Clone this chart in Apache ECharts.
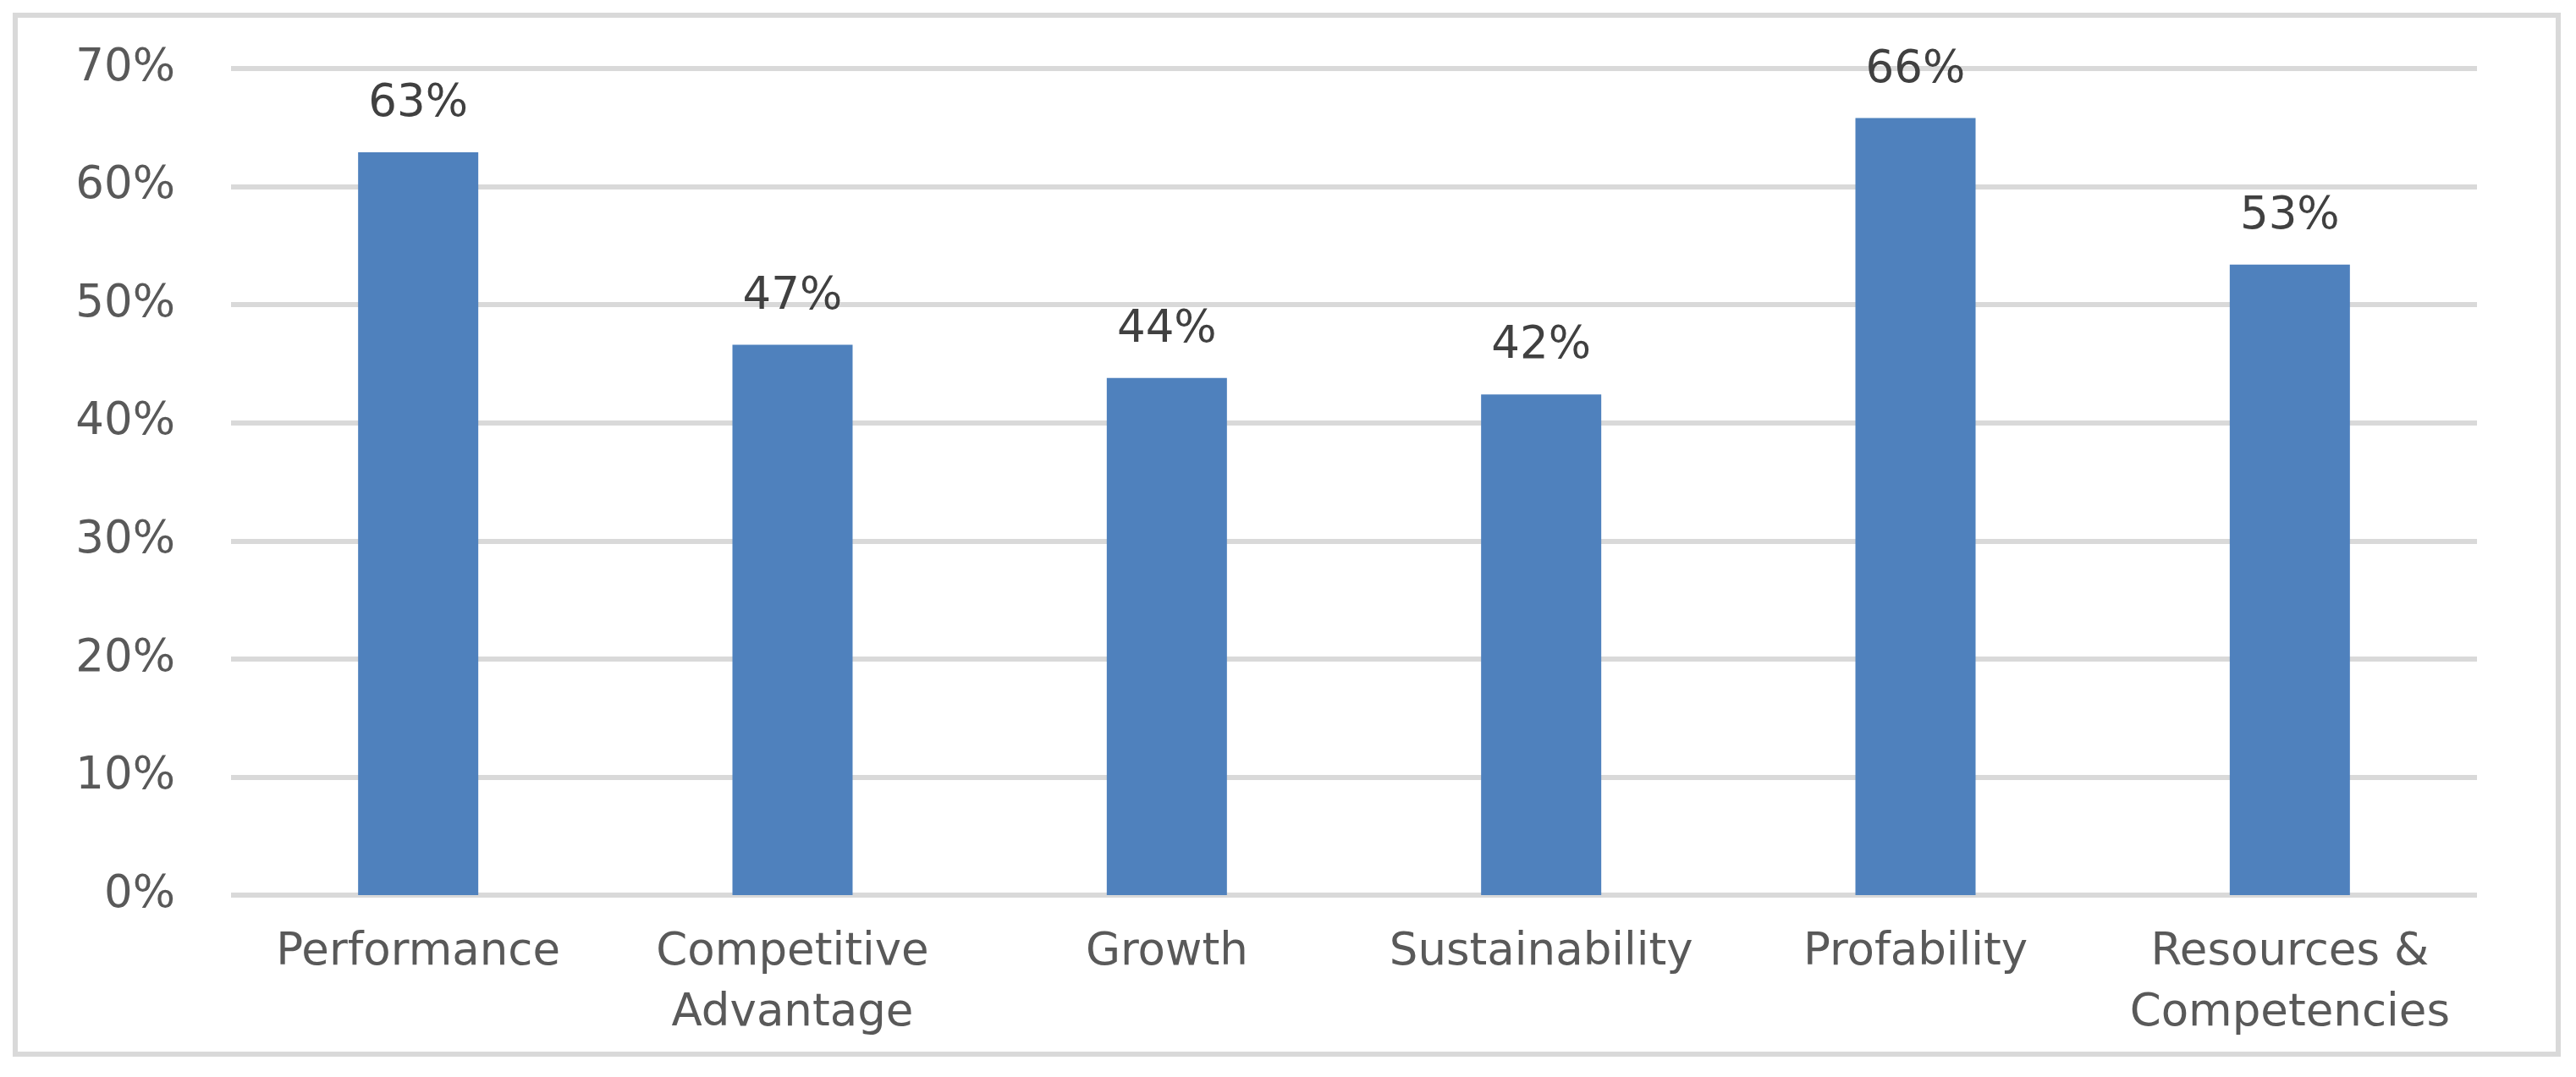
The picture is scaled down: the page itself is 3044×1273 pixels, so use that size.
<!DOCTYPE html>
<html>
<head>
<meta charset="utf-8">
<script src="https://cdn.jsdelivr.net/npm/echarts@6/dist/echarts.min.js"></script>
<style>
html,body{margin:0;padding:0;background:#fff;}
#wrap{position:absolute;left:15px;top:15px;width:3011px;height:1234px;border:6px solid #D9D9D9;box-sizing:border-box;}
#chart{position:absolute;left:0;top:0;width:3044px;height:1273px;}
</style>
</head>
<body>
<div id="wrap"></div>
<div id="chart"></div>
<script>
const categories = ['Performance', 'Competitive\nAdvantage', 'Growth', 'Sustainability', 'Profability', 'Resources &\nCompetencies'];
const values = [0.629, 0.466, 0.438, 0.424, 0.658, 0.534];
const yTicks = [0, 0.1, 0.2, 0.3, 0.4, 0.5, 0.6, 0.7];

const chart = echarts.init(document.getElementById('chart'), null, {renderer: 'canvas'});
const pct = v => Math.round(v * 100) + '%';
chart.setOption({
  backgroundColor: 'transparent',
  animation: false,
  grid: {left: 273, right: 117, top: 81, bottom: 215, containLabel: false},
  xAxis: {
    type: 'category',
    data: categories,
    axisLine: {show: false},
    axisTick: {show: false},
    axisLabel: {
      color: '#595959',
      fontFamily: 'DejaVu Sans',
      fontSize: 53,
      lineHeight: 72,
      margin: 32,
      interval: 0
    }
  },
  yAxis: {
    type: 'value',
    min: yTicks[0],
    max: yTicks[yTicks.length - 1],
    interval: 0.1,
    axisLine: {show: false},
    axisTick: {show: false},
    splitLine: {lineStyle: {color: '#D9D9D9', width: 6}},
    axisLabel: {
      color: '#595959',
      fontFamily: 'DejaVu Sans',
      fontSize: 53,
      margin: 66,
      formatter: pct
    }
  },
  series: [{
    type: 'bar',
    data: values,
    barWidth: 142,
    itemStyle: {color: '#4F81BD'},
    label: {
      show: true,
      position: 'top',
      distance: 30,
      color: '#404040',
      fontFamily: 'DejaVu Sans',
      fontSize: 53,
      formatter: p => pct(p.value)
    }
  }]
});
</script>
</body>
</html>
